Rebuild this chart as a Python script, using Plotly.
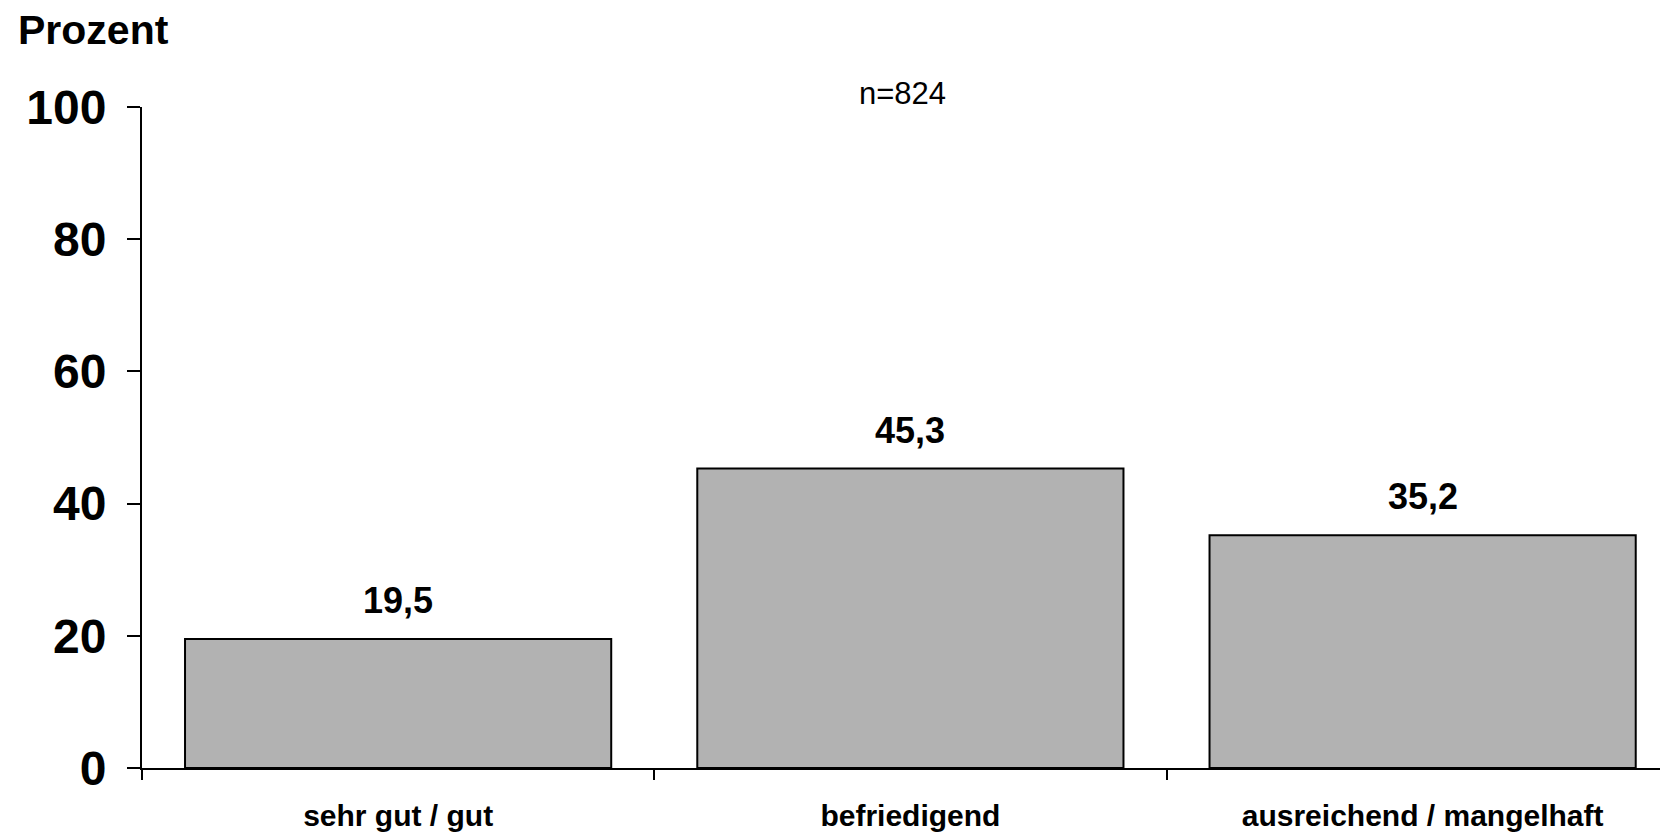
import plotly.graph_objects as go

# Daten
kategorien = ['sehr gut / gut', 'befriedigend', 'ausreichend / mangelhaft']
prozent = [19.5, 45.3, 35.2]
y_ticks = [0, 20, 40, 60, 80, 100]
n_text = 'n=824'

fett = 'Liberation Sans, Arial, sans-serif'

fig = go.Figure()
fig.add_trace(go.Bar(x=kategorien, y=prozent, width=0.832,
                     marker=dict(color='#b2b2b2', line=dict(color='black', width=2)),
                     hoverinfo='skip'))

# Werte über den Balken (Komma als Dezimaltrennzeichen)
for k, v in zip(kategorien, prozent):
    fig.add_annotation(x=k, y=v, text='<b>' + f'{v:.1f}'.replace('.', ',') + '</b>',
                       showarrow=False, yanchor='bottom', yshift=16,
                       font=dict(family=fett, size=36, color='black'))

fig.add_annotation(xref='paper', yref='paper', x=0.4985, y=1.02, text=n_text,
                   showarrow=False, xanchor='center', yanchor='middle',
                   font=dict(family=fett, size=31, color='black'))
fig.add_annotation(xref='paper', yref='paper', x=-0.0825, y=1.149, yshift=4,
                   text='<b>Prozent</b>', showarrow=False, xanchor='left', yanchor='top',
                   font=dict(family=fett, size=41, color='black'))

# Seite hat 8px Rand -> Figur etwas kleiner; x-Achse läuft rechts über den Rand hinaus
fig.update_layout(width=1660, height=824,
                  margin=dict(l=134, r=0, t=99, b=64, autoexpand=False),
                  plot_bgcolor='white', paper_bgcolor='white',
                  showlegend=False,
                  font=dict(family=fett, color='black'))
fig.update_xaxes(type='category', range=[-0.5, 2.479], showline=True, linecolor='black', linewidth=2,
                 ticks='outside', tickson='boundaries', ticklen=10, tickwidth=2, tickcolor='black',
                 ticklabelstandoff=20, showgrid=False, zeroline=False, automargin=False,
                 tickfont=dict(family=fett, size=30, color='black'),
                 tickvals=kategorien, ticktext=['<b>' + k + '</b>' for k in kategorien])
fig.update_yaxes(range=[0, 100], showline=True, linecolor='black', linewidth=2,
                 ticks='outside', ticklen=13, tickwidth=2, tickcolor='black',
                 tickvals=y_ticks, ticktext=['<b>' + str(t) + '</b>' for t in y_ticks],
                 ticklabelstandoff=11, showgrid=False, zeroline=False, automargin=False,
                 tickfont=dict(family=fett, size=48, color='black'))

fig.write_html('out.html')
